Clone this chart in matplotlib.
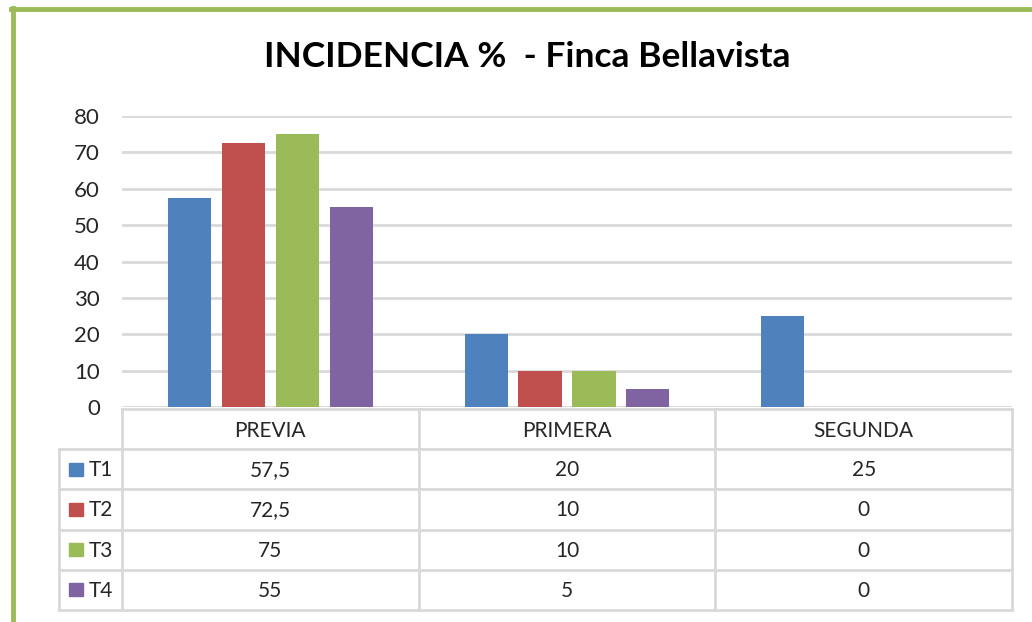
import numpy as np
import matplotlib.pyplot as plt
from matplotlib.lines import Line2D
from matplotlib.patches import Rectangle

# data
categories = ["PREVIA", "PRIMERA", "SEGUNDA"]
series = ["T1", "T2", "T3", "T4"]
t1 = [57.5, 20, 25]
t2 = [72.5, 10, 0]
t3 = [75, 10, 0]
t4 = [55, 5, 0]
yticks = [0, 10, 20, 30, 40, 50, 60, 70, 80]

values = [t1, t2, t3, t4]
colors = ["#4F81BD", "#C0504D", "#9BBB59", "#8064A2"]
FONT = "Lato"
TXT = "#262626"
W, H = 1032, 622


def fx(px):
    return px / W


def fy(py):
    return 1 - py / H


fig = plt.figure(figsize=(W / 100, H / 100), dpi=100)
fig.patch.set_facecolor("white")

# green frame (left and top only visible)
fig.add_artist(Line2D([fx(12.5), fx(12.5)], [fy(8), 0], color="#9BBB59", lw=3.5))
fig.add_artist(Line2D([fx(11), 1], [fy(9), fy(9)], color="#9BBB59", lw=3.5))

fig.text(fx(527), fy(57), "INCIDENCIA %  - Finca Bellavista", ha="center", va="center",
         fontsize=25.5, fontweight="bold", family=FONT, color="#000000")

# ---- bars ----
ax = fig.add_axes([fx(122), fy(407), fx(1012) - fx(122), fy(116) - fy(407)])
x = np.arange(len(categories))
bw, step = 0.145, 0.182
for i, (vals, c) in enumerate(zip(values, colors)):
    ax.bar(x + (i - 1.5) * step, vals, width=bw, color=c, zorder=3)
ax.set_xlim(-0.5, len(categories) - 0.5)
ax.set_ylim(0, 80)
ax.set_yticks(yticks)
ax.set_yticklabels([str(t) for t in yticks], family=FONT, fontsize=16, color=TXT)
ax.tick_params(axis="y", length=0, pad=16)
ax.set_xticks([])
ax.grid(axis="y", color="#D9D9D9", lw=2, zorder=0)
for s in ax.spines.values():
    s.set_visible(False)

# ---- data table ----
leg_w = (122 - 59) / 297.0
tab = fig.add_axes([fx(59), fy(610), fx(1012) - fx(59), fy(409) - fy(610)])
tab.set_xlim(-0.5 - leg_w, len(categories) - 0.5)
tab.set_ylim(5, 0)
tab.axis("off")
lc = "#D9D9D9"
lw = 2
# header row
tab.plot([-0.5, len(categories) - 0.5], [0, 0], color=lc, lw=lw, clip_on=False)
for r in range(1, 6):
    tab.plot([-0.5 - leg_w, len(categories) - 0.5], [r, r], color=lc, lw=lw, clip_on=False)
for k in range(len(categories) + 1):
    tab.plot([k - 0.5, k - 0.5], [0, 5], color=lc, lw=lw, clip_on=False)
tab.plot([-0.5 - leg_w, -0.5 - leg_w], [1, 5], color=lc, lw=lw, clip_on=False)

for j, cat in enumerate(categories):
    tab.text(j, 0.55, cat, ha="center", va="center", fontsize=15, family=FONT, color=TXT)
for i, (name, vals, c) in enumerate(zip(series, values, colors)):
    r = i + 1.5
    tab.add_patch(Rectangle((-0.5 - leg_w + 0.035, r - 0.16), 0.045, 0.32, color=c, clip_on=False))
    tab.text(-0.5 - leg_w + 0.10, r + 0.02, name, ha="left", va="center", fontsize=15,
             family=FONT, color=TXT)
    for j, v in enumerate(vals):
        tab.text(j, r + 0.02, f"{v:g}".replace(".", ","), ha="center", va="center",
                 fontsize=15, family=FONT, color=TXT)

fig.savefig("out.png", dpi=100, facecolor="white")
